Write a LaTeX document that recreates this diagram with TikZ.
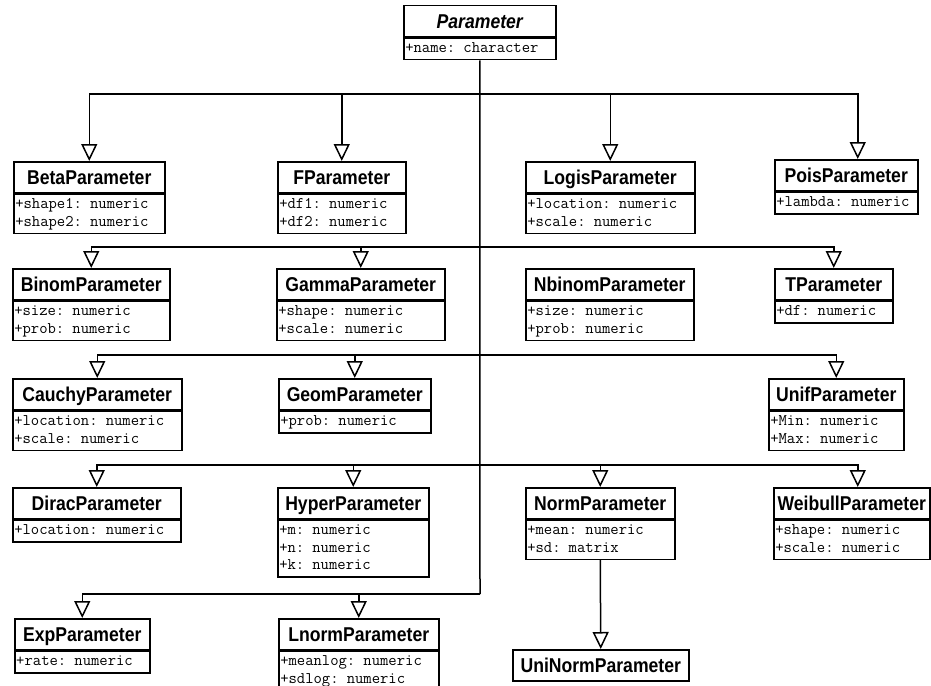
\documentclass[tikz,border=0pt]{standalone}
\usepackage{fontspec}
\setmainfont{Liberation Sans}
\newfontfamily\clsfont[FakeStretch=0.88]{Liberation Sans}
\usetikzlibrary{arrows.meta}
\tikzset{
  clsname/.style={draw,line width=1.5pt,inner sep=0pt,minimum height=31pt,
    anchor=north west,text height=14.3pt,text depth=0pt,
    font=\clsfont\fontsize{20}{21}\selectfont\bfseries},
  clsattr/.style={draw,line width=1.5pt,inner xsep=1.5pt,inner ysep=2pt,
    anchor=north west,align=left,font=\ttfamily\fontsize{16.2}{17.5}\selectfont,
    execute at begin node=\strut,execute at end node=\strut},
  inherit/.style={line width=1.5pt,-{Triangle[open,length=17pt,width=16pt]}}
}
\begin{document}
\begin{tikzpicture}[x=1pt,y=-1pt]
\useasboundingbox (0,0) rectangle (931,685);
\node[clsname,minimum width=152pt] (param) at (403,5) {\itshape Parameter};
\node[clsattr,text width=149pt] (param-a) at (param.south west) {+name: character};
\node[clsname,minimum width=151pt] (beta) at (13,161) {BetaParameter};
\node[clsattr,text width=148pt] (beta-a) at (beta.south west) {+shape1: numeric\\+shape2: numeric};
\node[clsname,minimum width=128pt] (fpar) at (277,161) {FParameter};
\node[clsattr,text width=125pt] (fpar-a) at (fpar.south west) {+df1: numeric\\+df2: numeric};
\node[clsname,minimum width=169pt] (logis) at (525,161) {LogisParameter};
\node[clsattr,text width=166pt] (logis-a) at (logis.south west) {+location: numeric\\+scale: numeric};
\node[clsname,minimum width=143pt] (pois) at (774,159) {PoisParameter};
\node[clsattr,text width=140pt] (pois-a) at (pois.south west) {+lambda: numeric};
\node[clsname,minimum width=157pt] (binom) at (12,268) {BinomParameter};
\node[clsattr,text width=154pt] (binom-a) at (binom.south west) {+size: numeric\\+prob: numeric};
\node[clsname,minimum width=168pt] (gamma) at (276,268) {GammaParameter};
\node[clsattr,text width=165pt] (gamma-a) at (gamma.south west) {+shape: numeric\\+scale: numeric};
\node[clsname,minimum width=168pt] (nbinom) at (525,268) {NbinomParameter};
\node[clsattr,text width=165pt] (nbinom-a) at (nbinom.south west) {+size: numeric\\+prob: numeric};
\node[clsname,minimum width=118pt] (tpar) at (774,268) {TParameter};
\node[clsattr,text width=115pt] (tpar-a) at (tpar.south west) {+df: numeric};
\node[clsname,minimum width=169pt] (cauchy) at (12,378) {CauchyParameter};
\node[clsattr,text width=166pt] (cauchy-a) at (cauchy.south west) {+location: numeric\\+scale: numeric};
\node[clsname,minimum width=152pt] (geom) at (278,378) {GeomParameter};
\node[clsattr,text width=149pt] (geom-a) at (geom.south west) {+prob: numeric};
\node[clsname,minimum width=135pt] (unif) at (768,378) {UnifParameter};
\node[clsattr,text width=132pt] (unif-a) at (unif.south west) {+Min: numeric\\+Max: numeric};
\node[clsname,minimum width=168pt] (dirac) at (12,487) {DiracParameter};
\node[clsattr,text width=165pt] (dirac-a) at (dirac.south west) {+location: numeric};
\node[clsname,minimum width=151pt] (hyper) at (277,487) {HyperParameter};
\node[clsattr,text width=148pt] (hyper-a) at (hyper.south west) {+m: numeric\\+n: numeric\\+k: numeric};
\node[clsname,minimum width=149pt] (norm) at (525,487) {NormParameter};
\node[clsattr,text width=146pt] (norm-a) at (norm.south west) {+mean: numeric\\+sd: matrix};
\node[clsname,minimum width=156pt] (weibull) at (773,487) {WeibullParameter};
\node[clsattr,text width=153pt] (weibull-a) at (weibull.south west) {+shape: numeric\\+scale: numeric};
\node[clsname,minimum width=135pt] (expo) at (14,618) {ExpParameter};
\node[clsattr,text width=132pt] (expo-a) at (expo.south west) {+rate: numeric};
\node[clsname,minimum width=160pt] (lnorm) at (278,618) {LnormParameter};
\node[clsattr,text width=157pt] (lnorm-a) at (lnorm.south west) {+meanlog: numeric\\+sdlog: numeric};
\node[clsname,minimum width=176pt] (uninorm) at (512,649) {UniNormParameter};
\coordinate (b1) at (480,94);
\coordinate (b2) at (480,247);
\coordinate (b3) at (480,355);
\coordinate (b4) at (480,465);
\coordinate (b5) at (480,594);
\draw[line width=1.5pt] (param-a.south) -- (b5);
\draw[inherit] (b1) -| (beta.north);
\draw[inherit] (b1) -| (fpar.north);
\draw[inherit] (b1) -| (logis.north);
\draw[inherit] (b1) -| ([xshift=11.5pt]pois.north);
\draw[inherit] (b2) -| (binom.north);
\draw[inherit] (b2) -| (gamma.north);
\draw[inherit] (b2) -| (tpar.north);
\draw[inherit] (b3) -| (cauchy.north);
\draw[inherit] (b3) -| (geom.north);
\draw[inherit] (b3) -| (unif.north);
\draw[inherit] (b4) -| (dirac.north);
\draw[inherit] (b4) -| (hyper.north);
\draw[inherit] (b4) -| (norm.north);
\draw[inherit] (b4) -| ([xshift=6pt]weibull.north);
\draw[inherit] (b5) -| (expo.north);
\draw[inherit] (b5) -| (lnorm.north);
\draw[inherit] (norm-a.south) -- (uninorm.north);
\end{tikzpicture}
\end{document}
